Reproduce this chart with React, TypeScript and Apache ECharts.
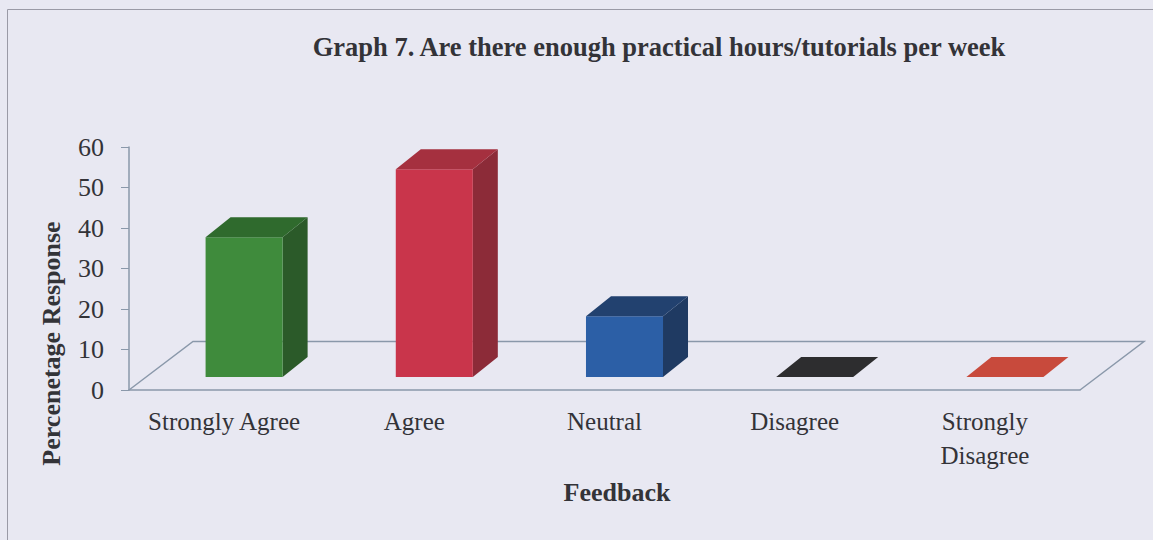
import React, { useEffect, useRef } from "react";
import * as echarts from "echarts";

const categories = ["Strongly Agree", "Agree", "Neutral", "Disagree", "Strongly Disagree"];
const values = [34.5, 51.3, 15.0, 0, 0];
const yMin = 0;
const yMax = 60;
const yStep = 10;

const titleText = "Graph 7. Are there enough practical hours/tutorials per week";
const yName = "Percenetage Response";
const xName = "Feedback";

// face colours per bar: [front, top, side]
const faceColors = [
  ["#3f8b3c", "#2f6a2d", "#2b5a29"],
  ["#c9354b", "#a5303f", "#8c2b38"],
  ["#2c5fa6", "#22416f", "#1f3a62"],
  ["#2d2d2f", "#2d2d2f", "#2d2d2f"],
  ["#c84a3c", "#c84a3c", "#c84a3c"],
];

const FONT = "'Liberation Serif', 'Times New Roman', serif";
const BG = "#e8e8f2";
const AXIS = "#8a98aa";
const TEXT = "#333338";

// 3D geometry (pixels)
const FLOOR_DX = 64;
const FLOOR_DY = 48.5;
const BAR_OX = 20;
const BAR_OY = 13;
const BAR_DX = 25;
const BAR_DY = 20;
const BAR_W = 0.405;

export default function App() {
  const ref = useRef<HTMLDivElement>(null);
  useEffect(() => {
    document.body.style.margin = "0";
    document.body.style.background = BG;
    const chart = echarts.init(ref.current!, null, { renderer: "svg" });
    chart.setOption({
      animation: false,
      backgroundColor: BG,
      textStyle: { fontFamily: FONT },
      title: {
        text: titleText,
        left: 654,
        top: 28,
        textAlign: "center",
        textStyle: { fontFamily: FONT, fontSize: 26.5, fontWeight: "bold", color: TEXT },
      },
      graphic: [
        {
          type: "rect",
          shape: { x: 7.5, y: 9.5, width: 1200, height: 600 },
          style: { fill: "none", stroke: "#9a9aa6", lineWidth: 1 },
          silent: true,
        },
      ],
      grid: { left: 129, right: 73, top: 147, bottom: 150 },
      xAxis: {
        type: "category",
        data: categories,
        name: xName,
        nameLocation: "middle",
        nameGap: 89,
        nameTextStyle: { fontFamily: FONT, fontSize: 26, fontWeight: "bold", color: TEXT, padding: [0, 0, 0, 25] },
        axisLine: { lineStyle: { color: AXIS, width: 1.5 } },
        axisTick: { length: 6, lineStyle: { color: AXIS } },
        axisLabel: {
          fontFamily: FONT,
          fontSize: 25,
          color: TEXT,
          margin: 14,
          lineHeight: 34,
          interval: 0,
          formatter: (v: string) => (v === "Strongly Disagree" ? "Strongly\nDisagree" : v),
        },
      },
      yAxis: {
        type: "value",
        min: yMin,
        max: yMax,
        interval: yStep,
        name: yName,
        nameLocation: "middle",
        nameGap: 65,
        nameTextStyle: { fontFamily: FONT, fontSize: 26, fontWeight: "bold", color: TEXT, padding: [0, 150, 0, 0] },
        axisLine: { show: true, lineStyle: { color: AXIS, width: 1.5 } },
        axisTick: { show: true, length: 8, lineStyle: { color: AXIS } },
        splitLine: { show: false },
        axisLabel: { fontFamily: FONT, fontSize: 26, color: TEXT, margin: 25 },
      },
      series: [
        {
          type: "custom",
          name: "floor",
          silent: true,
          z: 1,
          data: [0],
          renderItem: (params: any) => {
            const cs = params.coordSys;
            const x0 = cs.x;
            const x1 = cs.x + cs.width;
            const yb = cs.y + cs.height;
            return {
              type: "polyline",
              shape: {
                points: [
                  [x0, yb],
                  [x0 + FLOOR_DX, yb - FLOOR_DY],
                  [x1 + FLOOR_DX, yb - FLOOR_DY],
                  [x1, yb],
                ],
              },
              style: { stroke: AXIS, lineWidth: 1.5, fill: "none" },
            };
          },
        },
        {
          type: "custom",
          name: "Percentage",
          z: 3,
          data: values.map((v, i) => [i, v]),
          renderItem: (params: any, api: any) => {
            const idx = api.value(0);
            const val = api.value(1);
            const top = api.coord([idx, val]);
            const base = api.coord([idx, 0]);
            const band = api.size([1, 0])[0];
            const w = band * BAR_W;
            const cx = top[0] + BAR_OX;
            const L = cx - w / 2;
            const R = cx + w / 2;
            const T = top[1] - BAR_OY;
            const B = base[1] - BAR_OY;
            const c = faceColors[params.dataIndex % faceColors.length];
            const children: any[] = [];
            if (B - T > 0.5) {
              children.push({
                type: "polygon",
                shape: { points: [[R, T], [R + BAR_DX, T - BAR_DY], [R + BAR_DX, B - BAR_DY], [R, B]] },
                style: { fill: c[2] },
              });
              children.push({
                type: "rect",
                shape: { x: L, y: T, width: w, height: B - T },
                style: { fill: c[0] },
              });
            }
            children.push({
              type: "polygon",
              shape: { points: [[L, T], [R, T], [R + BAR_DX, T - BAR_DY], [L + BAR_DX, T - BAR_DY]] },
              style: { fill: c[1] },
            });
            return { type: "group", children };
          },
        },
      ],
    });
    return () => chart.dispose();
  }, []);
  return <div ref={ref} style={{ width: 1153, height: 540 }} />;
}
